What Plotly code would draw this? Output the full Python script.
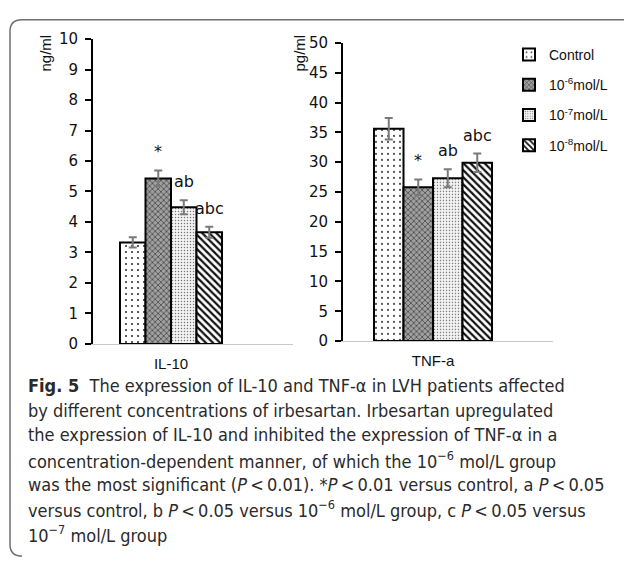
import plotly.graph_objects as go

# ---------------- data ----------------
groups = ["Control", "10<sup>-6</sup>mol/L", "10<sup>-7</sup>mol/L", "10<sup>-8</sup>mol/L"]
il10_category = ["IL-10"]
tnf_category = ["TNF-a"]
il10_values = [3.33, 5.43, 4.48, 3.66]
il10_errors = [0.17, 0.26, 0.23, 0.18]
tnf_values = [35.6, 25.8, 27.3, 29.9]
tnf_errors = [1.8, 1.3, 1.5, 1.55]
sig_labels = ["", "*", "ab", "abc"]
il10_ticks = list(range(0, 11, 1))
tnf_ticks = list(range(0, 51, 5))

caption_lines = [
    "<b>Fig. 5</b>  The expression of IL-10 and TNF-\u03b1 in LVH patients affected",
    "by different concentrations of irbesartan. Irbesartan upregulated",
    "the expression of IL-10 and inhibited the expression of TNF-\u03b1 in a",
    "concentration-dependent manner, of which the 10<sup>\u22126</sup> mol/L group",
    "was the most significant (<i>P</i>\u2009&lt;\u20090.01). *<i>P</i>\u2009&lt;\u20090.01 versus control, a <i>P</i>\u2009&lt;\u20090.05",
    "versus control, b <i>P</i>\u2009&lt;\u20090.05 versus 10<sup>\u22126</sup> mol/L group, c <i>P</i>\u2009&lt;\u20090.05 versus",
    "10<sup>\u22127</sup> mol/L group",
]

# ---------------- styles ----------------
W, H = 627, 565
patterns = [
    dict(shape=".", fgcolor="#333333", bgcolor="#ffffff", size=6, solidity=0.1, fillmode="replace"),
    dict(shape="x", fgcolor="#333333", bgcolor="#a0a0a0", size=4, solidity=0.3, fillmode="replace"),
    dict(shape=".", fgcolor="#777777", bgcolor="#f4f4f4", size=3, solidity=0.2, fillmode="replace"),
    dict(shape="\\", fgcolor="#111111", bgcolor="#ffffff", size=5, solidity=0.45, fillmode="replace"),
]
BARGAP = 0.49
GROUP_W = 1 - BARGAP
N = len(groups)

def px_x(p):
    return p / W

def px_y(p):
    return 1 - p / H

fig = go.Figure()
for i, g in enumerate(groups):
    fig.add_trace(go.Bar(
        x=il10_category, y=[il10_values[i]], name=g, legendgroup=g,
        xaxis="x", yaxis="y",
        marker=dict(color="#ffffff", pattern=patterns[i], line=dict(color="#000000", width=2)),
        error_y=dict(type="data", array=[il10_errors[i]], color="#7a7a7a", thickness=2, width=4),
    ))
for i, g in enumerate(groups):
    fig.add_trace(go.Bar(
        x=tnf_category, y=[tnf_values[i]], name=g, legendgroup=g, showlegend=False,
        xaxis="x2", yaxis="y2",
        marker=dict(color="#ffffff", pattern=patterns[i], line=dict(color="#000000", width=2)),
        error_y=dict(type="data", array=[tnf_errors[i]], color="#7a7a7a", thickness=2, width=4),
    ))

annotations = []
bar_w = GROUP_W / N
for i in range(N):
    xc = -GROUP_W / 2 + (i + 0.5) * bar_w
    if sig_labels[i]:
        annotations.append(dict(x=xc, y=il10_values[i] + il10_errors[i], xref="x", yref="y",
                                text=sig_labels[i], showarrow=False, yanchor="bottom", yshift=7,
                                font=dict(family="DejaVu Sans", size=16, color="#111111")))
        annotations.append(dict(x=xc, y=tnf_values[i] + tnf_errors[i], xref="x2", yref="y2",
                                text=sig_labels[i], showarrow=False, yanchor="bottom", yshift=7,
                                font=dict(family="DejaVu Sans", size=16, color="#111111")))

# axis unit titles
for txt, xp in (("ng/ml", 46), ("pg/ml", 300)):
    annotations.append(dict(x=px_x(xp), y=px_y(46), xref="paper", yref="paper", text=txt,
                            textangle=-90, showarrow=False, xanchor="center", yanchor="middle",
                            font=dict(family="Liberation Sans", size=15, color="#111111")))

# caption
cap_y0, cap_dy = 389, 25.5
for k, line in enumerate(caption_lines):
    annotations.append(dict(x=px_x(26), y=px_y(cap_y0 + k * cap_dy), xref="paper", yref="paper",
                            text=line, showarrow=False, xanchor="left", yanchor="middle", align="left",
                            font=dict(family="DejaVu Sans Condensed, Liberation Sans Narrow, sans-serif",
                                      size=18, color="#2a2a2a")))

yaxis_common = dict(showline=True, linecolor="#000000", linewidth=2, ticks="outside", ticklen=6,
                    tickwidth=2, tickcolor="#000000", showgrid=False, zeroline=False,
                    ticklabelstandoff=4,
                    tickfont=dict(family="DejaVu Sans", size=15, color="#111111"))
xaxis_common = dict(type="category", showline=True, linecolor="#c8c8c8", linewidth=1, ticks="",
                    showgrid=False, zeroline=False, ticklabelstandoff=6,
                    tickfont=dict(family="Liberation Sans", size=15, color="#111111"))

r2 = 0.9076
fig.update_layout(
    width=W, height=H, margin=dict(l=0, r=0, t=0, b=0),
    paper_bgcolor="#ffffff", plot_bgcolor="rgba(0,0,0,0)",
    barmode="group", bargap=BARGAP, bargroupgap=0,
    xaxis=dict(xaxis_common, domain=[px_x(93), px_x(293)], range=[-0.39, 0.61], anchor="y"),
    yaxis=dict(yaxis_common, domain=[px_y(346), px_y(31)], range=[0, 10], tickvals=il10_ticks, anchor="x"),
    xaxis2=dict(xaxis_common, domain=[px_x(343), px_x(553)], range=[-0.4286 * r2, 0.5714 * r2], anchor="y2"),
    yaxis2=dict(yaxis_common, domain=[px_y(343), px_y(35)], range=[0, 50], tickvals=tnf_ticks, anchor="x2"),
    showlegend=True,
    legend=dict(x=px_x(509), y=px_y(31), xanchor="left", yanchor="top", tracegroupgap=9,
                bgcolor="rgba(0,0,0,0)", font=dict(family="Liberation Sans", size=14, color="#111111"),
                itemclick=False),
    annotations=annotations,
    shapes=[dict(type="path", xref="paper", yref="paper",
                 path=f"M {px_x(624)},{px_y(11)} L {px_x(22)},{px_y(11)} Q {px_x(10)},{px_y(11)} {px_x(10)},{px_y(23)} "
                      f"L {px_x(10)},{px_y(553)} Q {px_x(10)},{px_y(565)} {px_x(22)},{px_y(565)}",
                 line=dict(color="#6e6e6e", width=1.5))],
)

fig.write_html("out.html")
